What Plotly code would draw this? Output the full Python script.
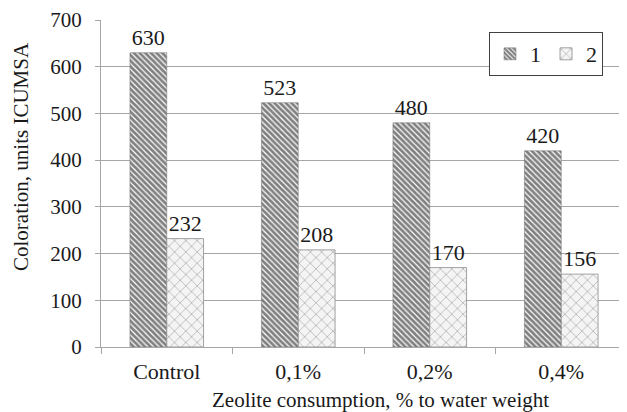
import plotly.graph_objects as go

categories = ["Control", "0,1%", "0,2%", "0,4%"]
series1 = [630, 523, 480, 420]
series2 = [232, 208, 170, 156]
series_names = ["1", "2"]
y_ticks = [0, 100, 200, 300, 400, 500, 600, 700]

FONT = "Liberation Serif, Times New Roman, serif"
GRID = "#a6a6a6"
TXT = "#1a1a1a"
OFF = 8  # page body margin
W, H = 627 - OFF, 412 - OFF
L, R, T, B = 101 - OFF, 0, 20 - OFF, 65
PW, PH = W - L - R, H - T - B


def px_x(x):
    return (x - OFF - L) / PW


def px_y(y):
    return (H - B - (y - OFF)) / PH


fig = go.Figure()
fig.add_trace(go.Bar(
    x=categories, y=series1, name=series_names[0],
    text=[str(v) for v in series1], textposition="outside",
    textfont=dict(family=FONT, size=22, color=TXT),
    marker=dict(color="white",
                pattern=dict(shape="\\", fgcolor="#000000", bgcolor="#ffffff",
                             size=4, solidity=0.7),
                line=dict(color="#6f6f6f", width=0.5)),
    cliponaxis=False,
))
fig.add_trace(go.Bar(
    x=categories, y=series2, name=series_names[1],
    text=[str(v) for v in series2], textposition="outside",
    textfont=dict(family=FONT, size=22, color=TXT),
    marker=dict(color="white",
                pattern=dict(shape="x", fgcolor="#3f3f3f", bgcolor="#f4f4f4",
                             size=8, solidity=0.14),
                line=dict(color="#8c8c8c", width=0.8)),
    cliponaxis=False,
))

fig.update_layout(
    width=W, height=H,
    margin=dict(l=L, r=R, t=T, b=B, autoexpand=False),
    paper_bgcolor="white", plot_bgcolor="white",
    barmode="group", bargap=0.44, bargroupgap=0.0,
    font=dict(family=FONT, size=21, color=TXT),
    showlegend=True,
    legend=dict(
        orientation="h", x=px_x(489), y=px_y(32),
        xanchor="left", yanchor="top",
        bgcolor="white", bordercolor="#404040", borderwidth=1,
        font=dict(family=FONT, size=22, color=TXT),
        itemwidth=30,
    ),
    xaxis=dict(
        automargin=False,
        showline=True, linecolor=GRID, linewidth=1,
        ticks="outside", tickson="boundaries", ticklen=6, tickcolor=GRID,
        tickfont=dict(family=FONT, size=22), ticklabelstandoff=5,
        showgrid=False,
    ),
    yaxis=dict(
        automargin=False,
        range=[0, 700], tickvals=y_ticks,
        showline=True, linecolor=GRID, linewidth=1,
        ticks="outside", ticklen=5, tickcolor=GRID,
        showgrid=True, gridcolor=GRID, gridwidth=1,
        zeroline=False,
        tickfont=dict(family=FONT, size=21), ticklabelstandoff=9,
    ),
    annotations=[
        dict(text="Zeolite consumption, % to water weight", xref="paper", yref="paper",
             x=px_x(380), y=px_y(400), xanchor="center", yanchor="middle",
             showarrow=False, font=dict(family=FONT, size=21, color=TXT)),
        dict(text="Coloration, units ICUMSA", xref="paper", yref="paper",
             x=px_x(21), y=px_y(157), xanchor="center", yanchor="middle",
             textangle=-90, showarrow=False,
             font=dict(family=FONT, size=21, color=TXT)),
    ],
)

fig.write_html("out.html")
